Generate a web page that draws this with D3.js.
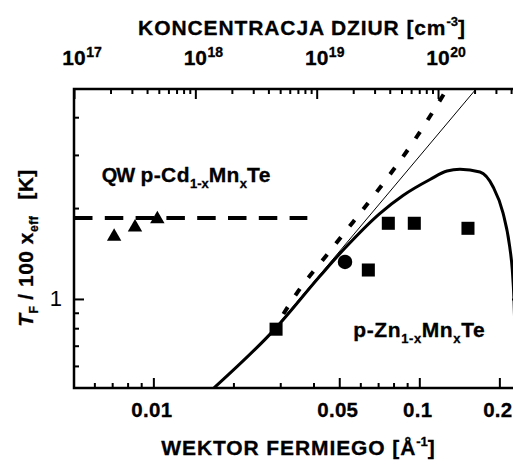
<!DOCTYPE html>
<html><head><meta charset="utf-8">
<script src="https://cdn.jsdelivr.net/npm/d3@7"></script>
<style>
html,body{margin:0;padding:0;background:#fff;}
text{font-family:"Liberation Sans",Arial,Helvetica,sans-serif;font-weight:bold;fill:#000;stroke:#000;stroke-width:0.3px;}
</style></head>
<body>
<svg id="chart" width="513" height="461"></svg>
<script>
// ---------- data ----------
const kMajorTicks = [0.01, 0.05, 0.1, 0.2];
const kMajorLabels = ["0.01", "0.05", "0.1", "0.2"];
const kMinorTicks = [0.006, 0.007, 0.008, 0.009, 0.02, 0.03, 0.04, 0.06, 0.07, 0.08, 0.09];
const pMajorTicks = [1e17, 1e18, 1e19, 1e20];
const pMajorExps = ["17", "18", "19", "20"];
const pMinorMult = [2, 3, 4, 5, 6, 7, 8, 9];
const yMajorTicks = [1];
const yMajorLabels = ["1"];
const yMinorTicks = [0.6, 0.7, 0.8, 0.9, 2, 3, 4];

// QW p-Cd1-xMnxTe (triangles) and its dashed level
const triK = [0.00712, 0.00853, 0.01035];
const triV = [1.608, 1.727, 1.840];
const qwK = [0.00503, 0.03793];
const qwV = [1.854, 1.854];

// p-Zn1-xMnxTe (squares, circle)
const sqK = [0.02893, 0.06432, 0.07647, 0.09576, 0.1524];
const sqV = [0.794, 1.247, 1.781, 1.781, 1.714];
const circK = [0.05256];
const circV = [1.326];

// theory curves
const solidK = [0.01691, 0.02868, 0.04233, 0.05256, 0.07117, 0.08686, 0.1097, 0.1271, 0.1422, 0.1691, 0.1893, 0.2064, 0.2187, 0.2237, 0.2270, 0.2289];
const solidV = [0.5075, 0.796, 1.191, 1.475, 1.922, 2.202, 2.487, 2.654, 2.689, 2.633, 2.354, 1.927, 1.490, 1.247, 0.992, 0.789];
const dashK = [0.02794, 0.03461, 0.04459, 0.05648, 0.07319, 0.09227, 0.1146, 0.1271];
const dashV = [0.772, 1.044, 1.388, 1.803, 2.416, 3.194, 4.280, 4.96];
const thinK = [0.02563, 0.1634];
const thinV = [0.712, 4.96];

// ---------- layout ----------
const L = 74, R = 522, T = 89, B = 388;
const svg = d3.select("#chart");

const x = d3.scaleLog().domain([0.00503, 0.2433]).range([L, R]);
const xTop = d3.scaleLog().domain([1e17, 4.92e20]).range([L, R]);
const y = d3.scaleLog().domain([0.507, 4.96]).range([B, T]);

svg.append("defs").append("clipPath").attr("id", "clip")
  .append("rect").attr("x", L).attr("y", T).attr("width", R - L).attr("height", B - T);

const plot = svg.append("g").attr("clip-path", "url(#clip)");
const zip = (a, b) => a.map((v, i) => [v, b[i]]);
const line = d3.line().x(d => x(d[0])).y(d => y(d[1]));

// QW dashed level
plot.append("path").datum(zip(qwK, qwV)).attr("d", line)
  .attr("fill", "none").attr("stroke", "#000").attr("stroke-width", 4)
  .attr("stroke-dasharray", "18.5,12.3");

// thin line
plot.append("path").datum(zip(thinK, thinV)).attr("d", line)
  .attr("fill", "none").attr("stroke", "#000").attr("stroke-width", 1);

// dashed (short dashes) curve
plot.append("path").datum(zip(dashK, dashV)).attr("d", line.curve(d3.curveMonotoneX))
  .attr("fill", "none").attr("stroke", "#000").attr("stroke-width", 4)
  .attr("stroke-dasharray", "8,14");

// solid curve
plot.append("path").datum(zip(solidK, solidV)).attr("d", line.curve(d3.curveMonotoneX))
  .attr("fill", "none").attr("stroke", "#000").attr("stroke-width", 3);

// markers
plot.selectAll("path.tri").data(zip(triK, triV)).join("path")
  .attr("transform", d => `translate(${x(d[0])},${y(d[1])})`)
  .attr("d", d3.symbol(d3.symbolTriangle, 90)).attr("fill", "#000");
plot.selectAll("path.sq").data(zip(sqK, sqV)).join("path")
  .attr("transform", d => `translate(${x(d[0])},${y(d[1])})`)
  .attr("d", d3.symbol(d3.symbolSquare, 170)).attr("fill", "#000");
plot.selectAll("path.ci").data(zip(circK, circV)).join("path")
  .attr("transform", d => `translate(${x(d[0])},${y(d[1])})`)
  .attr("d", d3.symbol(d3.symbolCircle, 165)).attr("fill", "#000");

// ---------- axes ----------
const ax = svg.append("g");
// bottom axis (ticks inward)
const bMaj = d3.axisTop(x).tickValues(kMajorTicks).tickSize(10).tickFormat("");
const bMin = d3.axisTop(x).tickValues(kMinorTicks).tickSize(5).tickFormat("");
[bMaj, bMin].forEach(a => {
  const g = ax.append("g").attr("transform", `translate(0,${B})`).call(a);
  g.select(".domain").remove();
  g.selectAll("line").attr("stroke-width", 2);
});
// top axis (ticks inward)
const pMinor = [];
pMajorTicks.forEach(p => pMinorMult.forEach(m => { if (p * m < xTop.domain()[1]) pMinor.push(p * m); }));
const tMaj = d3.axisBottom(xTop).tickValues(pMajorTicks).tickSize(10).tickFormat("");
const tMin = d3.axisBottom(xTop).tickValues(pMinor).tickSize(5).tickFormat("");
[tMaj, tMin].forEach(a => {
  const g = ax.append("g").attr("transform", `translate(0,${T})`).call(a);
  g.select(".domain").remove();
  g.selectAll("line").attr("stroke-width", 2);
});
// left / right axes
const lMaj = d3.axisRight(y).tickValues(yMajorTicks).tickSize(10).tickFormat("");
const lMin = d3.axisRight(y).tickValues(yMinorTicks).tickSize(5).tickFormat("");
const rMaj = d3.axisLeft(y).tickValues(yMajorTicks).tickSize(10).tickFormat("");
const rMin = d3.axisLeft(y).tickValues(yMinorTicks).tickSize(5).tickFormat("");
[[lMaj, L], [lMin, L], [rMaj, R], [rMin, R]].forEach(([a, px]) => {
  const g = ax.append("g").attr("transform", `translate(${px},0)`).call(a);
  g.select(".domain").remove();
  g.selectAll("line").attr("stroke-width", 2);
});
// frame
ax.append("rect").attr("x", L).attr("y", T).attr("width", R - L).attr("height", B - T)
  .attr("fill", "none").attr("stroke", "#000").attr("stroke-width", 2.5);

// ---------- tick labels ----------
kMajorTicks.forEach((k, i) => {
  svg.append("text").attr("x", x(k) - 1.5).attr("y", 416.5).attr("text-anchor", "middle")
    .style("font-size", "20.5px").style("letter-spacing", "0.3px").text(kMajorLabels[i]);
});
pMajorTicks.forEach((p, i) => {
  const g = svg.append("g").attr("transform", `translate(${xTop(p)},65)`);
  const base = g.append("text").attr("text-anchor", "middle").style("font-size", "21px").text("10");
  const w = base.node().getComputedTextLength();
  g.append("text").attr("x", w / 2 + 0.5).attr("y", -8).style("font-size", "14px").text(pMajorExps[i]);
});
yMajorTicks.forEach((v, i) => {
  svg.append("text").attr("x", 62).attr("y", y(v) + 7.5).attr("text-anchor", "end")
    .style("font-size", "22px").style("font-weight", "normal").style("stroke-width", "0px")
    .text(yMajorLabels[i]);
});

// ---------- axis titles ----------
const tt = svg.append("text").attr("x", 302).attr("y", 35).attr("text-anchor", "middle")
  .style("font-size", "21px").style("letter-spacing", "0.9px");
tt.append("tspan").text("KONCENTRACJA DZIUR [cm");
tt.append("tspan").attr("dy", -9).style("font-size", "13px").style("letter-spacing", "0px").text("-3");
tt.append("tspan").attr("dy", 9).text("]");

const bt = svg.append("text").attr("x", 298.5).attr("y", 455).attr("text-anchor", "middle")
  .style("font-size", "21px").style("letter-spacing", "0.9px");
bt.append("tspan").text("WEKTOR FERMIEGO [Å");
bt.append("tspan").attr("dy", -9).style("font-size", "13px").style("letter-spacing", "0px").text("-1");
bt.append("tspan").attr("dy", 9).text("]");

const yt = svg.append("text").attr("transform", "translate(33,248) rotate(-90)")
  .attr("text-anchor", "middle").style("font-size", "21px").style("letter-spacing", "0.5px");
yt.append("tspan").style("font-style", "italic").text("T");
yt.append("tspan").attr("dy", 5).style("font-size", "12px").text("F");
yt.append("tspan").attr("dy", -5).attr("dx", 6).text("/ 100 x");
yt.append("tspan").attr("dy", 5).style("font-size", "12px").text("eff");
yt.append("tspan").attr("dy", -5).attr("dx", 16).text("[K]");

// ---------- annotations ----------
const a1 = svg.append("text").attr("x", 101.7).attr("y", 181.7).style("font-size", "20px");
a1.append("tspan").style("letter-spacing", "-1px").text("QW");
a1.append("tspan").attr("x", 140.5).style("font-size", "21px").style("letter-spacing", "0.4px").text("p-Cd");
a1.append("tspan").attr("dy", 6).style("font-size", "13px").text("1-x");
a1.append("tspan").attr("dy", -6).style("font-size", "21px").style("letter-spacing", "0.4px").text("Mn");
a1.append("tspan").attr("dy", 6).style("font-size", "13px").text("x");
a1.append("tspan").attr("dy", -6).style("font-size", "21px").style("letter-spacing", "0.4px").text("Te");

const a2 = svg.append("text").attr("x", 353.3).attr("y", 336.7).style("font-size", "21px").style("letter-spacing", "0.6px");
a2.append("tspan").text("p-Zn");
a2.append("tspan").attr("dy", 6).style("font-size", "13px").text("1-x");
a2.append("tspan").attr("dy", -6).text("Mn");
a2.append("tspan").attr("dy", 6).style("font-size", "13px").text("x");
a2.append("tspan").attr("dy", -6).text("Te");
</script>
</body></html>
